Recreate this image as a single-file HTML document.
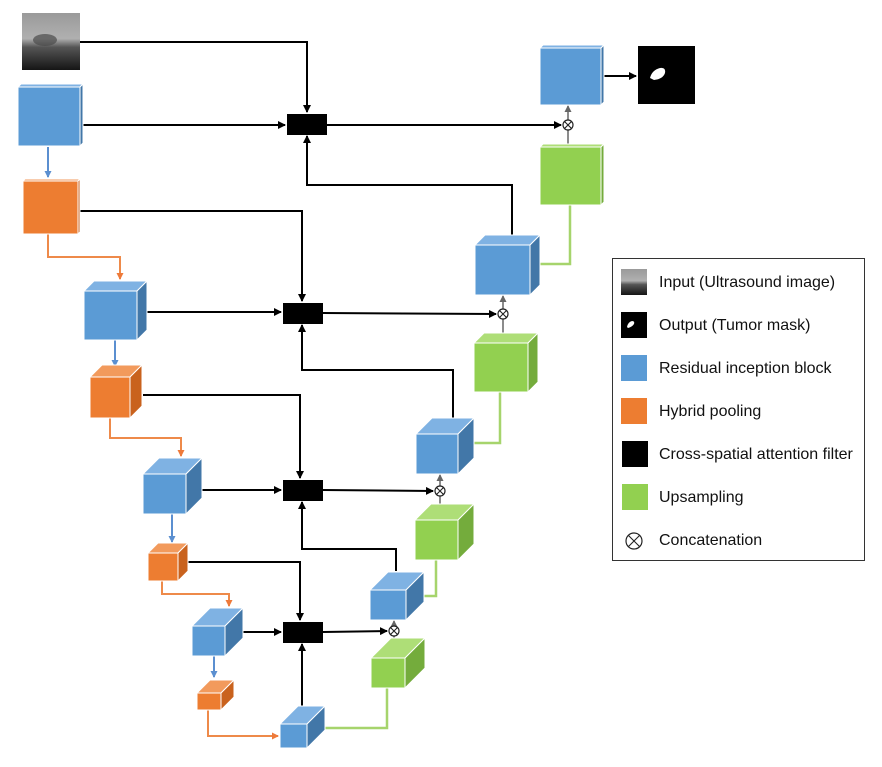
<!DOCTYPE html>
<html><head><meta charset="utf-8"><style>
body{margin:0;background:#fff}
svg{display:block}
text{font-family:"Liberation Sans",sans-serif;font-size:16px;fill:#111}
.b .f{fill:#5b9bd5}.b .t{fill:#7fb2e3}.b .s{fill:#4277a8}
.o .f{fill:#ed7d31}.o .t{fill:#f29a5c}.o .s{fill:#c9621d}
.g .f{fill:#92d050}.g .t{fill:#aede77}.g .s{fill:#74ac3c}
.b *,.o *,.g *{stroke:#fff;stroke-width:1}
.k{stroke:#000;stroke-width:2;fill:none}
.bl{stroke:#5b8fd0;stroke-width:2;fill:none}
.or{stroke:#ee8a4a;stroke-width:2;fill:none}
.gr{stroke:#a6d46c;stroke-width:2.5;fill:none}
</style></head><body>
<svg width="882" height="767" viewBox="0 0 882 767" xmlns="http://www.w3.org/2000/svg">
<defs>
<marker id="ak" markerWidth="8" markerHeight="8" refX="7" refY="4" orient="auto" markerUnits="userSpaceOnUse"><path d="M0,0 L8,4 L0,8 z" fill="#000"/></marker>
<marker id="ab" markerWidth="7" markerHeight="7" refX="6" refY="3.5" orient="auto" markerUnits="userSpaceOnUse"><path d="M0,0 L7,3.5 L0,7 z" fill="#5b8fd0"/></marker>
<marker id="ao" markerWidth="7" markerHeight="7" refX="6" refY="3.5" orient="auto" markerUnits="userSpaceOnUse"><path d="M0,0 L7,3.5 L0,7 z" fill="#ee7a3a"/></marker>
<marker id="ag" markerWidth="7" markerHeight="7" refX="6" refY="3.5" orient="auto" markerUnits="userSpaceOnUse"><path d="M0,0 L7,3.5 L0,7 z" fill="#666"/></marker>
<linearGradient id="us" x1="0" y1="0" x2="0" y2="1"><stop offset="0" stop-color="#9a9a9a"/><stop offset="0.45" stop-color="#b0b0b0"/><stop offset="0.6" stop-color="#555"/><stop offset="1" stop-color="#151515"/></linearGradient>
</defs>

<polyline class="k" points="80,42 307,42 307,112" marker-end="url(#ak)"/>
<line class="k" x1="80" y1="125" x2="285" y2="125" marker-end="url(#ak)"/>
<line class="k" x1="327" y1="125" x2="561" y2="125" marker-end="url(#ak)"/>
<polyline class="k" points="512,235 512,185 307,185 307,136" marker-end="url(#ak)"/>
<polyline class="k" points="78,211 302,211 302,301" marker-end="url(#ak)"/>
<line class="k" x1="147" y1="312" x2="281" y2="312" marker-end="url(#ak)"/>
<line class="k" x1="323" y1="313" x2="496" y2="314" marker-end="url(#ak)"/>
<polyline class="k" points="453,419 453,370 302,370 302,325" marker-end="url(#ak)"/>
<polyline class="k" points="143,395 300,395 300,478" marker-end="url(#ak)"/>
<line class="k" x1="201" y1="490" x2="281" y2="490" marker-end="url(#ak)"/>
<line class="k" x1="323" y1="490" x2="433" y2="491" marker-end="url(#ak)"/>
<polyline class="k" points="396,571 396,549 302,549 302,502" marker-end="url(#ak)"/>
<polyline class="k" points="188,562 300,562 300,620" marker-end="url(#ak)"/>
<line class="k" x1="243" y1="632" x2="281" y2="632" marker-end="url(#ak)"/>
<line class="k" x1="323" y1="632" x2="387" y2="631" marker-end="url(#ak)"/>
<line class="k" x1="302" y1="707" x2="302" y2="644" marker-end="url(#ak)"/>
<line class="k" x1="604" y1="76" x2="636" y2="76" marker-end="url(#ak)"/>

<line class="bl" x1="48" y1="147" x2="48" y2="177" marker-end="url(#ab)"/>
<polyline class="or" points="48,234 48,257 120,257 120,279" marker-end="url(#ao)"/>
<line class="bl" x1="115" y1="340" x2="115" y2="366" marker-end="url(#ab)"/>
<polyline class="or" points="110,418 110,438 181,438 181,456" marker-end="url(#ao)"/>
<line class="bl" x1="172" y1="514" x2="172" y2="542" marker-end="url(#ab)"/>
<polyline class="or" points="162,581 162,594 229,594 229,606" marker-end="url(#ao)"/>
<line class="bl" x1="214" y1="656" x2="214" y2="677" marker-end="url(#ab)"/>
<polyline class="or" points="208,710 208,736 278,736" marker-end="url(#ao)"/>

<polyline class="gr" points="325,728 387,728 387,688"/>
<polyline class="gr" points="424,596 436,596 436,560"/>
<polyline class="gr" points="474,443 500,443 500,392"/>
<polyline class="gr" points="540,264 570,264 570,205"/>
<line stroke="#666" stroke-width="1.5" x1="394" y1="638" x2="394" y2="621" marker-end="url(#ag)"/>
<line stroke="#666" stroke-width="1.5" x1="440" y1="505" x2="440" y2="475" marker-end="url(#ag)"/>
<line stroke="#666" stroke-width="1.5" x1="503" y1="333" x2="503" y2="296" marker-end="url(#ag)"/>
<line stroke="#666" stroke-width="1.5" x1="568" y1="144" x2="568" y2="106" marker-end="url(#ag)"/>

<g class="b"><rect class="f" x="18" y="87" width="62" height="59"/><polygon class="t" points="18,87 21,84 83,84 80,87"/><polygon class="s" points="80,87 83,84 83,143 80,146"/></g>
<g class="o"><rect class="f" x="23" y="181" width="55" height="53"/><polygon class="t" points="23,181 25,179 80,179 78,181"/><polygon class="s" points="78,181 80,179 80,232 78,234"/></g>
<g class="b"><rect class="f" x="84" y="291" width="53" height="49"/><polygon class="t" points="84,291 94,281 147,281 137,291"/><polygon class="s" points="137,291 147,281 147,330 137,340"/></g>
<g class="o"><rect class="f" x="90" y="377" width="40" height="41"/><polygon class="t" points="90,377 102,365 142,365 130,377"/><polygon class="s" points="130,377 142,365 142,406 130,418"/></g>
<g class="b"><rect class="f" x="143" y="474" width="43" height="40"/><polygon class="t" points="143,474 159,458 202,458 186,474"/><polygon class="s" points="186,474 202,458 202,498 186,514"/></g>
<g class="o"><rect class="f" x="148" y="553" width="30" height="28"/><polygon class="t" points="148,553 158,543 188,543 178,553"/><polygon class="s" points="178,553 188,543 188,571 178,581"/></g>
<g class="b"><rect class="f" x="192" y="626" width="33" height="30"/><polygon class="t" points="192,626 210,608 243,608 225,626"/><polygon class="s" points="225,626 243,608 243,638 225,656"/></g>
<g class="o"><rect class="f" x="197" y="693" width="24" height="17"/><polygon class="t" points="197,693 210,680 234,680 221,693"/><polygon class="s" points="221,693 234,680 234,697 221,710"/></g>
<g class="b"><rect class="f" x="280" y="724" width="27" height="24"/><polygon class="t" points="280,724 298,706 325,706 307,724"/><polygon class="s" points="307,724 325,706 325,730 307,748"/></g>
<g class="g"><rect class="f" x="371" y="658" width="34" height="30"/><polygon class="t" points="371,658 391,638 425,638 405,658"/><polygon class="s" points="405,658 425,638 425,668 405,688"/></g>
<g class="b"><rect class="f" x="370" y="590" width="36" height="30"/><polygon class="t" points="370,590 388,572 424,572 406,590"/><polygon class="s" points="406,590 424,572 424,602 406,620"/></g>
<g class="g"><rect class="f" x="415" y="520" width="43" height="40"/><polygon class="t" points="415,520 431,504 474,504 458,520"/><polygon class="s" points="458,520 474,504 474,544 458,560"/></g>
<g class="b"><rect class="f" x="416" y="434" width="42" height="40"/><polygon class="t" points="416,434 432,418 474,418 458,434"/><polygon class="s" points="458,434 474,418 474,458 458,474"/></g>
<g class="g"><rect class="f" x="474" y="343" width="54" height="49"/><polygon class="t" points="474,343 484,333 538,333 528,343"/><polygon class="s" points="528,343 538,333 538,382 528,392"/></g>
<g class="b"><rect class="f" x="475" y="245" width="55" height="50"/><polygon class="t" points="475,245 485,235 540,235 530,245"/><polygon class="s" points="530,245 540,235 540,285 530,295"/></g>
<g class="g"><rect class="f" x="540" y="147" width="61" height="58"/><polygon class="t" points="540,147 543,144 604,144 601,147"/><polygon class="s" points="601,147 604,144 604,202 601,205"/></g>
<g class="b"><rect class="f" x="540" y="48" width="61" height="57"/><polygon class="t" points="540,48 543,45 604,45 601,48"/><polygon class="s" points="601,48 604,45 604,102 601,105"/></g>

<rect x="287" y="114" width="40" height="21" fill="#000"/>
<rect x="283" y="303" width="40" height="21" fill="#000"/>
<rect x="283" y="480" width="40" height="21" fill="#000"/>
<rect x="283" y="622" width="40" height="21" fill="#000"/>

<g fill="#fff" stroke="#222" stroke-width="1.2">
<circle cx="568" cy="125" r="5"/><circle cx="503" cy="314" r="5"/><circle cx="440" cy="491" r="5"/><circle cx="394" cy="631" r="5"/>
</g>
<g stroke="#222" stroke-width="1.1">
<path d="M564.5,121.5 L571.5,128.5 M571.5,121.5 L564.5,128.5"/>
<path d="M499.5,310.5 L506.5,317.5 M506.5,310.5 L499.5,317.5"/>
<path d="M436.5,487.5 L443.5,494.5 M443.5,487.5 L436.5,494.5"/>
<path d="M390.5,627.5 L397.5,634.5 M397.5,627.5 L390.5,634.5"/>
</g>

<rect x="22" y="13" width="58" height="57" fill="url(#us)"/>
<ellipse cx="45" cy="40" rx="12" ry="6" fill="#4a4a4a" opacity="0.7"/>
<rect x="638" y="46" width="57" height="58" fill="#000"/>
<path d="M650,78 Q652,70 660,68 Q666,67 665,73 Q663,79 654,80 Z" fill="#fff"/>

<rect x="612.5" y="258.5" width="252" height="302" fill="#fff" stroke="#333" stroke-width="1"/>
<rect x="621" y="269" width="26" height="26" fill="url(#us)"/>
<rect x="621" y="312" width="26" height="26" fill="#000"/>
<path d="M627,327 Q628,322 632,321 Q635,321 634,324 Q632,327 628,328 Z" fill="#fff"/>
<rect x="621" y="355" width="26" height="26" fill="#5b9bd5"/>
<rect x="621" y="398" width="26" height="26" fill="#ed7d31"/>
<rect x="622" y="441" width="26" height="26" fill="#000"/>
<rect x="622" y="484" width="26" height="26" fill="#92d050"/>
<circle cx="634" cy="541" r="8" fill="#fff" stroke="#222" stroke-width="1.2"/>
<path d="M628.5,535.5 L639.5,546.5 M639.5,535.5 L628.5,546.5" stroke="#222" stroke-width="1.1"/>
<text x="659" y="287">Input (Ultrasound image)</text>
<text x="659" y="330">Output (Tumor mask)</text>
<text x="659" y="373">Residual inception block</text>
<text x="659" y="416">Hybrid pooling</text>
<text x="659" y="459">Cross-spatial attention filter</text>
<text x="659" y="502">Upsampling</text>
<text x="659" y="545">Concatenation</text>
</svg>
</body></html>
